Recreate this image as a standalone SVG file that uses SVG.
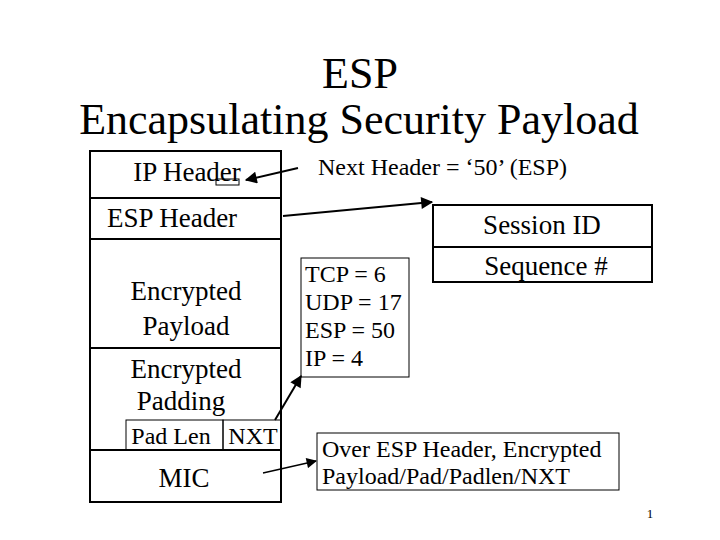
<svg xmlns="http://www.w3.org/2000/svg" width="720" height="540" viewBox="0 0 720 540">
<style>
text{font-family:"Liberation Serif","Times New Roman",serif;fill:#000}
.t{font-size:44px}
.b{font-size:27px}
.m{font-size:24px}
.box{fill:none;stroke:#000;stroke-width:2}
.thin{fill:none;stroke:#000;stroke-width:1}
.c{fill:none;stroke:#000;stroke-width:2}
</style>
<defs>
<marker id="ah" viewBox="0 0 10 10" refX="9" refY="5" markerWidth="7" markerHeight="6" orient="auto" markerUnits="strokeWidth">
<path d="M0,0 L10,5 L0,10 Z" fill="#000"/>
</marker>
<marker id="ah2" viewBox="0 0 10 10" refX="9" refY="5" markerWidth="10" markerHeight="8" orient="auto" markerUnits="strokeWidth">
<path d="M0,0 L10,5 L0,10 Z" fill="#000"/>
</marker>
</defs>
<rect width="720" height="540" fill="#fff"/>
<g id="title">
<text class="t" x="360" y="88" text-anchor="middle">ESP</text>
<text class="t" x="359" y="134" text-anchor="middle">Encapsulating Security Payload</text>
</g>
<g id="packet">
<rect class="box" x="90" y="151" width="191" height="351"/>
<line class="box" x1="90" y1="198" x2="281" y2="198"/>
<line class="box" x1="90" y1="239" x2="281" y2="239"/>
<line class="box" x1="90" y1="348" x2="281" y2="348"/>
<line class="box" x1="90" y1="450" x2="281" y2="450"/>
</g>
<g id="ip-header">
<text class="b" x="187" y="181" text-anchor="middle">IP Header</text>
<rect class="thin" x="216" y="179" width="23" height="6"/>
</g>
<g id="esp-header">
<text class="b" x="172" y="227" text-anchor="middle">ESP Header</text>
</g>
<g id="payload">
<text class="b" x="186" y="300" text-anchor="middle">Encrypted</text>
<text class="b" x="186" y="335" text-anchor="middle">Payload</text>
</g>
<g id="padding">
<text class="b" x="186" y="378" text-anchor="middle">Encrypted</text>
<text class="b" x="181" y="410" text-anchor="middle">Padding</text>
</g>
<g id="padlen">
<rect class="thin" x="126" y="420" width="97" height="30"/>
<text class="m" x="171" y="444" text-anchor="middle">Pad Len</text>
</g>
<g id="nxt">
<rect class="thin" x="223" y="420" width="58" height="30"/>
<text class="m" x="253" y="444" text-anchor="middle">NXT</text>
</g>
<g id="mic">
<text class="b" x="184" y="487" text-anchor="middle">MIC</text>
</g>
<g id="next-header-label">
<text class="m" x="318" y="175">Next Header = ‘50’ (ESP)</text>
</g>
<g id="session">
<rect class="box" x="433" y="205" width="219" height="77"/>
<line class="box" x1="433" y1="247" x2="652" y2="247"/>
<text class="b" x="542" y="234" text-anchor="middle">Session ID</text>
<text class="b" x="546" y="275" text-anchor="middle">Sequence #</text>
</g>
<g id="proto">
<rect class="thin" x="301" y="258" width="108" height="119"/>
<text class="m" x="305" y="282">TCP = 6</text>
<text class="m" x="305" y="310">UDP = 17</text>
<text class="m" x="305" y="338">ESP = 50</text>
<text class="m" x="305" y="366">IP = 4</text>
</g>
<g id="mic-note">
<rect class="thin" x="317" y="433" width="302" height="57"/>
<text class="m" x="322" y="457">Over ESP Header, Encrypted</text>
<text class="m" x="322" y="484">Payload/Pad/Padlen/NXT</text>
</g>
<g id="connectors">
<line class="c" x1="298" y1="168" x2="246" y2="180" marker-end="url(#ah)"/>
<line class="c" x1="283" y1="216" x2="432" y2="202" marker-end="url(#ah)"/>
<line class="c" x1="275" y1="420" x2="301" y2="376" marker-end="url(#ah)"/>
<line x1="263" y1="473" x2="316" y2="461" stroke="#000" stroke-width="1.3" marker-end="url(#ah2)"/>
</g>
<text x="650" y="518" font-size="13" text-anchor="middle">1</text>
</svg>
